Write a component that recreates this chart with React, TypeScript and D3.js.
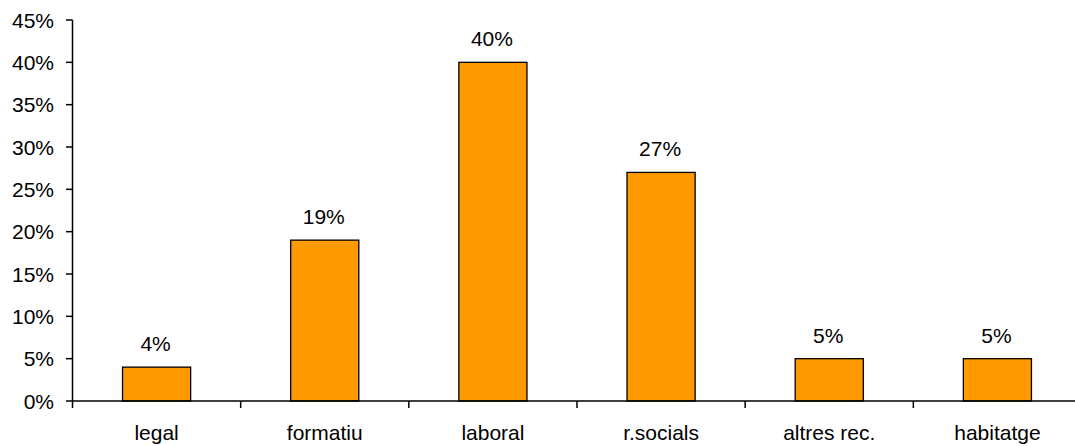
import React from "react";
import * as d3 from "d3";

const categories = ["legal", "formatiu", "laboral", "r.socials", "altres rec.", "habitatge"];
const values = [4, 19, 40, 27, 5, 5];
const yTicks = [0, 5, 10, 15, 20, 25, 30, 35, 40, 45];

const W = 1075;
const H = 446;
const FONT = "'Liberation Sans', Arial, sans-serif";
const FS = 21;

export default function App() {
  const x = d3.scaleBand<string>().domain(categories).range([72.5, 1081.5]).paddingInner(0).paddingOuter(0);
  const y = d3.scaleLinear().domain([0, 45]).range([401, 20]);
  const barW = x.bandwidth() * 0.405;
  const bandEdges = categories.map((c) => x(c)!);

  return (
    <div style={{ position: "fixed", left: 0, top: 0 }}>
      <svg width={W} height={H} style={{ display: "block", background: "#fff" }} fontFamily={FONT}>
        {/* bars */}
        {categories.map((c, i) => {
          const cx = x(c)! + x.bandwidth() / 2;
          return (
            <g key={c}>
              <rect
                x={cx - barW / 2}
                y={y(values[i])}
                width={barW}
                height={y(0) - y(values[i])}
                fill="#FF9900"
                stroke="#000"
                strokeWidth={1.3}
              />
              <text x={cx - 1} y={y(values[i]) - 16} textAnchor="middle" fontSize={FS} fill="#000">
                {values[i]}%
              </text>
              <text x={cx} y={440} textAnchor="middle" fontSize={FS} fill="#000">
                {c}
              </text>
            </g>
          );
        })}
        {/* y axis */}
        <line x1={72.5} x2={72.5} y1={y(45)} y2={y(0)} stroke="#000" strokeWidth={1.5} />
        {yTicks.map((t) => (
          <g key={t}>
            <line x1={66} x2={72.5} y1={y(t)} y2={y(t)} stroke="#000" strokeWidth={1.5} />
            <text x={54} y={y(t) + 7.5} textAnchor="end" fontSize={FS} fill="#000">
              {t}%
            </text>
          </g>
        ))}
        {/* x axis */}
        <line x1={72.5} x2={W} y1={y(0)} y2={y(0)} stroke="#000" strokeWidth={1.5} />
        {bandEdges.map((e, i) => (
          <line key={i} x1={e} x2={e} y1={y(0)} y2={y(0) + 7} stroke="#000" strokeWidth={1.5} />
        ))}
      </svg>
    </div>
  );
}
